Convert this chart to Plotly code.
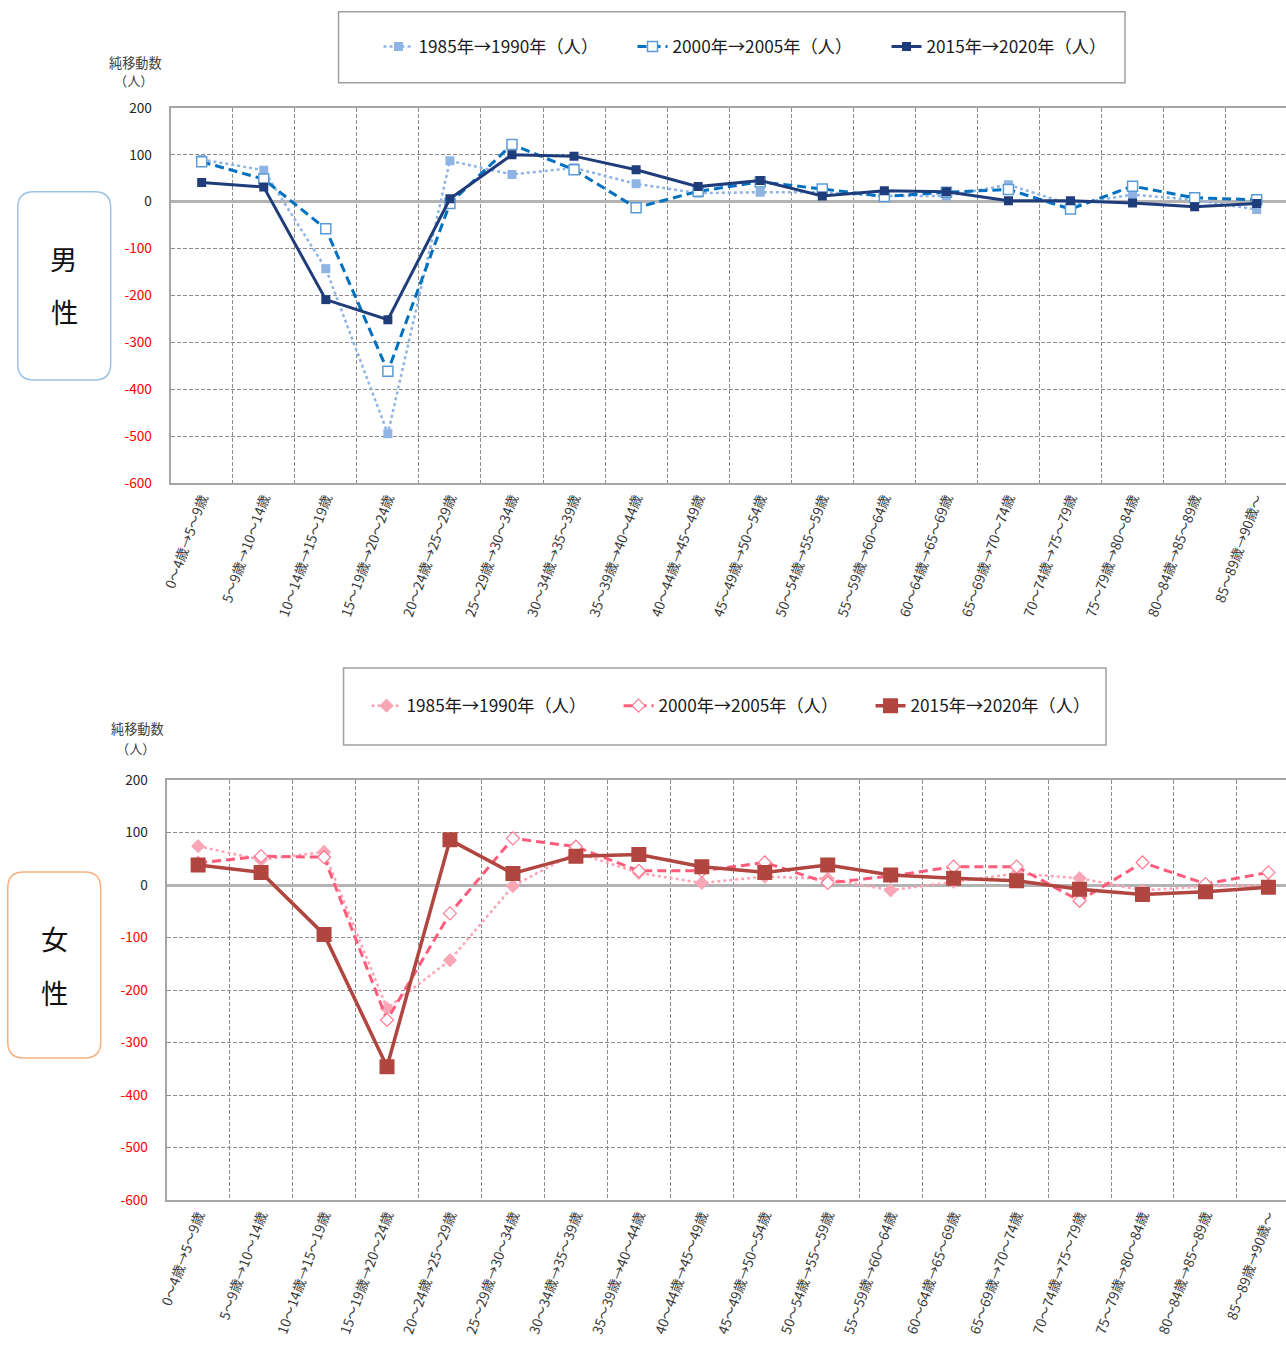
import plotly.graph_objects as go

# The captured page shows the document at a slight reduction, with the default 8px
# body margin; the layout below is expressed in final page pixels and converted.
PAGE_W, PAGE_H = 1286, 1346
PAD = 8
S = 1286 / 1302
W, H = round(PAGE_W / S - PAD), round(PAGE_H / S - PAD)
# fine alignment of the page mapping (scale, offset) per direction
X_A, X_B = 1.0045, 2.3
Y_A, Y_B = 0.99725, 3.3

# Age-group transitions (cohort moves over five years)
age_groups = [
    "0～4歳→5～9歳", "5～9歳→10～14歳", "10～14歳→15～19歳", "15～19歳→20～24歳",
    "20～24歳→25～29歳", "25～29歳→30～34歳", "30～34歳→35～39歳", "35～39歳→40～44歳",
    "40～44歳→45～49歳", "45～49歳→50～54歳", "50～54歳→55～59歳", "55～59歳→60～64歳",
    "60～64歳→65～69歳", "65～69歳→70～74歳", "70～74歳→75～79歳", "75～79歳→80～84歳",
    "80～84歳→85～89歳", "85～89歳→90歳～",
]

series_names = ["1985年→1990年（人）", "2000年→2005年（人）", "2015年→2020年（人）"]

# Net migration, male
male_1985 = [90, 67, -143, -495, 87, 58, 72, 38, 18, 20, 20, 12, 12, 36, -6, 15, 4, -17]
male_2000 = [85, 48, -58, -362, -4, 122, 68, -13, 22, 42, 27, 11, 20, 26, -16, 33, 8, 4]
male_2015 = [41, 31, -209, -252, 6, 100, 97, 68, 32, 45, 12, 23, 21, 2, 2, -3, -11, -4]

# Net migration, female
female_1985 = [74, 48, 63, -235, -143, -2, 62, 23, 4, 16, 12, -10, 6, 22, 13, -10, -3, 0]
female_2000 = [42, 55, 53, -257, -54, 89, 73, 27, 27, 43, 4, 17, 35, 35, -30, 43, 2, 24]
female_2015 = [38, 24, -94, -346, 86, 22, 55, 58, 35, 24, 38, 19, 13, 8, -8, -18, -13, -4]

y_ticks = [200, 100, 0, -100, -200, -300, -400, -500, -600]

FONT = "Noto Sans CJK JP"


def px_x(x):
    """Page x pixel -> paper fraction."""
    return (((x - X_B) / X_A) / S - PAD) / W


def px_y(y):
    """Page y pixel -> paper fraction."""
    return 1 - (((y - Y_B) / Y_A) / S - PAD) / H


def fs(size):
    """Font size compensated for the page reduction."""
    return size / S


def rounded_rect(x0, y0, x1, y1, r):
    """SVG path (paper coords) for a rounded rectangle given in page pixels."""
    def P(x, y):
        return f"{px_x(x):.5f},{px_y(y):.5f}"
    return " ".join([
        f"M{P(x0 + r, y0)}",
        f"L{P(x1 - r, y0)}",
        f"Q{P(x1, y0)} {P(x1, y0 + r)}",
        f"L{P(x1, y1 - r)}",
        f"Q{P(x1, y1)} {P(x1 - r, y1)}",
        f"L{P(x0 + r, y1)}",
        f"Q{P(x0, y1)} {P(x0, y1 - r)}",
        f"L{P(x0, y0 + r)}",
        f"Q{P(x0, y0)} {P(x0 + r, y0)}Z",
    ])


fig = go.Figure()

# ---- male panel ----
fig.add_trace(go.Scatter(
    x=age_groups, y=male_1985, name=series_names[0], mode="lines+markers",
    line=dict(color="#8fb4e3", width=2.5, dash="dot"),
    marker=dict(symbol="square", size=9, color="#8fb4e3"),
    xaxis="x", yaxis="y", legend="legend"))
fig.add_trace(go.Scatter(
    x=age_groups, y=male_2000, name=series_names[1], mode="lines+markers",
    line=dict(color="#0070c0", width=3, dash="9px,5px"),
    marker=dict(symbol="square", size=10, color="white",
                line=dict(color="#5b9bd5", width=1.5)),
    xaxis="x", yaxis="y", legend="legend"))
fig.add_trace(go.Scatter(
    x=age_groups, y=male_2015, name=series_names[2], mode="lines+markers",
    line=dict(color="#1f3d7a", width=3),
    marker=dict(symbol="square", size=9, color="#1f3d7a"),
    xaxis="x", yaxis="y", legend="legend"))

# ---- female panel ----
fig.add_trace(go.Scatter(
    x=age_groups, y=female_1985, name=series_names[0], mode="lines+markers",
    line=dict(color="#ffa3b5", width=2.5, dash="dot"),
    marker=dict(symbol="diamond", size=11, color="#f9a7b7"),
    xaxis="x2", yaxis="y2", legend="legend2"))
fig.add_trace(go.Scatter(
    x=age_groups, y=female_2000, name=series_names[1], mode="lines+markers",
    line=dict(color="#ff5c7c", width=3, dash="9px,5px"),
    marker=dict(symbol="diamond", size=10, color="white",
                line=dict(color="#ff7a92", width=1.2)),
    xaxis="x2", yaxis="y2", legend="legend2"))
fig.add_trace(go.Scatter(
    x=age_groups, y=female_2015, name=series_names[2], mode="lines+markers",
    line=dict(color="#b0463f", width=3.5),
    marker=dict(symbol="square", size=15, color="#b0463f"),
    xaxis="x2", yaxis="y2", legend="legend2"))

tick_text = [f"<span style='color:#ff0000'>{v}</span>" if v < 0 else str(v) for v in y_ticks]

grid_common = dict(gridcolor="#8c8c8c", gridwidth=1, griddash="4px,2px")


def xaxis_cfg(left_px, pitch, anchor):
    # the panel runs past the right edge of the page; show only what fits
    right_px = PAGE_W + 4
    right_idx = (right_px - left_px) / pitch - 0.5
    return dict(
        domain=[px_x(left_px), min(1.0, px_x(right_px))], anchor=anchor, type="category",
        range=[-0.5, right_idx], tickson="boundaries", showgrid=True, **grid_common,
        showline=True, linecolor="#a6a6a6", linewidth=2, mirror=True,
        ticks="", tickangle=-70, tickfont=dict(family=FONT, size=fs(13.5), color="#3a3a3a"),
        fixedrange=True)


def yaxis_cfg(top_px, bottom_px, anchor):
    return dict(
        domain=[px_y(bottom_px), px_y(top_px)], anchor=anchor, range=[-600, 200],
        tickvals=y_ticks, ticktext=tick_text,
        showgrid=True, **grid_common,
        zeroline=True, zerolinecolor="#b3b3b3", zerolinewidth=3,
        showline=True, linecolor="#a6a6a6", linewidth=2,
        ticks="", ticklabelstandoff=14,
        tickfont=dict(family=FONT, size=fs(13.5), color="#262626"), fixedrange=True)


fig.update_layout(
    width=W, height=H, autosize=False,
    margin=dict(l=0, r=0, t=0, b=0),
    paper_bgcolor="white", plot_bgcolor="white",
    font=dict(family=FONT, color="#262626"),
    xaxis=xaxis_cfg(170, 62.1, "y"),
    yaxis=yaxis_cfg(108, 483, "x"),
    xaxis2=xaxis_cfg(166, 63.0, "y2"),
    yaxis2=yaxis_cfg(780, 1200, "x2"),
    legend=dict(orientation="h", x=px_x(378), xanchor="left", y=px_y(47), yanchor="middle",
                bgcolor="rgba(0,0,0,0)", borderwidth=0, entrywidth=209, entrywidthmode="pixels",
                font=dict(family=FONT, size=fs(17), color="#1a1a1a"), itemclick=False),
    legend2=dict(orientation="h", x=px_x(366), xanchor="left", y=px_y(706), yanchor="middle",
                 bgcolor="rgba(0,0,0,0)", borderwidth=0, entrywidth=207, entrywidthmode="pixels",
                 font=dict(family=FONT, size=fs(17), color="#1a1a1a"), itemclick=False),
    showlegend=True,
)

shapes = [
    # legend frames
    dict(type="rect", xref="paper", yref="paper", x0=px_x(338), x1=px_x(1125),
         y0=px_y(83), y1=px_y(12), line=dict(color="#a0a0a0", width=1.5), layer="below"),
    dict(type="rect", xref="paper", yref="paper", x0=px_x(343), x1=px_x(1106),
         y0=px_y(745), y1=px_y(668), line=dict(color="#a0a0a0", width=1.5), layer="below"),
    # sex label boxes
    dict(type="path", xref="paper", yref="paper", path=rounded_rect(17, 192, 110, 380, 16),
         line=dict(color="#9dc3e6", width=1.5)),
    dict(type="path", xref="paper", yref="paper", path=rounded_rect(7, 872, 100, 1058, 16),
         line=dict(color="#f4b183", width=1.5)),
]
fig.update_layout(shapes=shapes)

annotations = []
for text, x, y in [
    ("純移動数", 135, 63), ("（人）", 133, 81),
    ("純移動数", 137, 729), ("（人）", 135, 748),
]:
    annotations.append(dict(text=text, x=px_x(x), y=px_y(y), xref="paper", yref="paper",
                            showarrow=False, xanchor="center", yanchor="middle",
                            font=dict(family=FONT, size=fs(13), color="#404040")))
for text, x, y in [("男", 63, 258), ("性", 64, 311), ("女", 54, 938), ("性", 54, 992)]:
    annotations.append(dict(text=text, x=px_x(x), y=px_y(y), xref="paper", yref="paper",
                            showarrow=False, xanchor="center", yanchor="middle",
                            font=dict(family=FONT, size=fs(27), color="#111111")))
fig.update_layout(annotations=annotations)

fig.write_html("out.html")
